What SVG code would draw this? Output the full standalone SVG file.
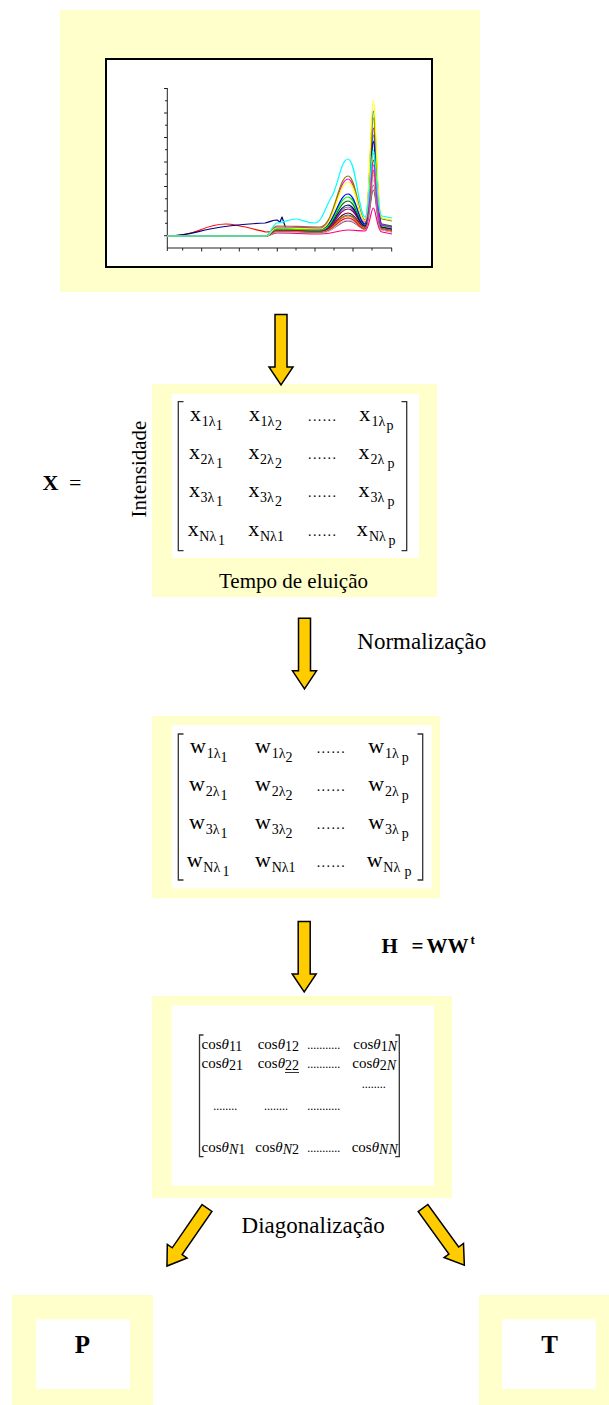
<svg xmlns="http://www.w3.org/2000/svg" width="609" height="1405" viewBox="0 0 609 1405">
  <style>
    .pad { fill: #FFFFCC; }
    .card { fill: #FFFFFF; }
    .t { font-family: "Liberation Serif", "Times New Roman", serif; fill: #000; }
    .m { font-size: 22px; }
    .s { font-size: 14px; }
    .c { font-size: 15px; }
    .it { font-style: italic; }
    .dots { font-size: 12px; }
    .dm { font-size: 14px; letter-spacing: 1.4px; }
    .lbl { font-size: 23px; }
    .b { font-weight: bold; }
    .br { fill: none; stroke: #333; stroke-width: 1.3; }
    .trace { fill: none; stroke-width: 1.2; stroke-linejoin: round; }
    .arrow { fill: #FFCC00; stroke: #000; stroke-width: 1.5; stroke-linejoin: miter; }
  </style>
  <defs>
    <!-- block arrow pointing down, origin at centre of the tail -->
    <path id="blockArrow" d="M-6,0 H6 V52.5 H12 L0,70.5 L-12,52.5 H-6 Z"/>
  </defs>

  <rect width="609" height="1405" fill="#FFFFFF"/>

  <!-- chromatogram panel -->
  <g id="chromatogram">
    <rect class="pad" x="60" y="10" width="420" height="282"/>
    <rect x="106" y="59" width="326" height="208" fill="#FFFFFF" stroke="#000" stroke-width="2"/>
    <g stroke="#222" stroke-width="1" fill="none">
      <path d="M167.3,88 V248 H392"/>
      <path d="M164,88.5h3.3M165,100.8h2.3M164,113h3.3M165,125.2h2.3M164,137.5h3.3M165,149.7h2.3M164,162h3.3M165,174.2h2.3M164,186.5h3.3M165,198.8h2.3M164,211h3.3M165,223.3h2.3M164,235.7h3.3"/>
      <path d="M167.3,248v3M182.7,248v2.5M201.7,248v3.5M220.7,248v2.5M239.3,248v3.5M258.3,248v2.5M277.3,248v3.5M296,248v2.5M315,248v3.5M334,248v2.5M353,248v3.5M372,248v2.5M391.7,248v3.5"/>
    </g>
    <g id="traces">
      <path class="trace" stroke="#FF0080" d="M167,236 L266,236 C270,236 272,233 277,233 C290,233 305,234 320,234 C334,234 338,230 348,230 C356,230 359,231 365,231 C369,231 371,208 373.3,208 C376,208 377,232 382,232 L392,234"/>
      <path class="trace" stroke="#993366" d="M167,236 L266,236 C270,236 272,232 277,232 C290,232 305,233 320,233 C334,233 338,221 348,221 C356,221 359,229 365,229 C369,229 371,190 373.3,190 C376,190 377,230 382,230 L392,232"/>
      <path class="trace" stroke="#C0C0C0" d="M167,236 L266,236 C270,236 272,232 277,232 C290,232 305,233 320,233 C334,233 338,220 348,220 C356,220 359,229 365,229 C369,229 371,180 373.3,180 C376,180 377,230 382,230 L392,232"/>
      <path class="trace" stroke="#9999FF" d="M167,236 L266,236 C270,236 272,231 277,231 C290,231 305,232 320,232 C334,232 338,218 348,218 C356,218 359,229 365,229 C369,229 371,175 373.3,175 C376,175 377,229 382,229 L392,231"/>
      <path class="trace" stroke="#FF0000" d="M167,236 C180,236 190,234 200,230 C212,225 220,224 226,224 C235,224 250,228 266,232 C270,232 272,231 277,231 C290,231 305,232 320,232 C334,232 338,218 348,218 C356,218 359,229 365,229 C369,229 371,170 373.3,170 C376,170 377,229 382,229 L392,231"/>
      <path class="trace" stroke="#008080" d="M167,236 L266,236 C270,236 272,231 277,231 C290,231 305,232 320,232 C334,232 338,215 348,215 C356,215 359,228 365,228 C369,228 371,135 373.3,135 C376,135 377,228 382,228 L392,230"/>
      <path class="trace" stroke="#FF6600" d="M167,236 L266,236 C270,236 272,231 277,231 C290,231 305,232 320,232 C334,232 338,216 348,216 C356,216 359,228 365,228 C369,228 371,172 373.3,172 C376,172 377,229 382,229 L392,231"/>
      <path class="trace" stroke="#800000" d="M167,236 L266,236 C270,236 272,230 277,230 C290,230 305,231 320,231 C334,231 338,213 348,213 C356,213 359,227 365,227 C369,227 371,160 373.3,160 C376,160 377,228 382,228 L392,230"/>
      <path class="trace" stroke="#808080" d="M167,236 L266,236 C270,236 272,230 277,230 C290,230 305,231 320,231 C334,231 338,207 348,207 C356,207 359,227 365,227 C369,227 371,185 373.3,185 C376,185 377,228 382,228 L392,230"/>
      <path class="trace" stroke="#800080" d="M167,236 L266,236 C270,236 272,230 277,230 C290,230 305,231 320,231 C334,231 338,209 348,209 C356,209 359,226 365,226 C369,226 371,128 373.3,128 C376,128 377,227 382,227 L392,229"/>
      <path class="trace" stroke="#000080" d="M167,236 C185,236 195,232 210,229 C225,226 245,224 265,223 C270,222 273,220 277,220 L280,222 L282,217 L286,229 C295,229 308,230 320,230 C334,230 338,205 348,205 C356,205 359,226 365,226 C369,226 371,142 373.3,142 C376,142 377,227 382,227 L392,229"/>
      <path class="trace" stroke="#008000" d="M167,236 L266,236 C270,236 272,229 277,229 C290,229 305,230 320,230 C334,230 338,201 348,201 C356,201 359,225 365,225 C369,225 371,111 373.3,111 C376,111 377,224 382,224 L392,226"/>
      <path class="trace" stroke="#00FF00" d="M167,236 L266,236 C270,236 272,229 277,229 C290,229 305,230 320,230 C334,230 338,197 348,197 C356,197 359,224 365,224 C369,224 371,153 373.3,153 C376,153 377,226 382,226 L392,228"/>
      <path class="trace" stroke="#0000FF" d="M167,236 L266,236 C270,236 272,228 277,228 C290,228 305,229 320,229 C334,229 338,194 348,194 C356,194 359,224 365,224 C369,224 371,141 373.3,141 C376,141 377,225 382,225 L392,227"/>
      <path class="trace" stroke="#FF00FF" d="M167,236 L266,236 C270,236 272,227 277,227 C290,227 305,228 320,228 C334,228 338,179 348,179 C356,179 359,222 365,222 C369,222 371,165 373.3,165 C376,165 377,225 382,225 L392,227"/>
      <path class="trace" stroke="#808000" d="M167,236 L266,236 C270,236 272,226 277,226 C290,226 305,227 320,227 C334,227 338,176 348,176 C356,176 359,220 365,220 C369,220 371,118 373.3,118 C376,118 377,219 382,219 L392,221"/>
      <path class="trace" stroke="#FFFF00" d="M167,236 L266,236 C270,236 272,228 277,228 C290,228 305,229 320,229 C334,229 338,182 348,182 C356,182 359,221 365,221 C369,221 371,100 373.3,100 C376,100 377,218 382,218 L392,220"/>
      <path class="trace" stroke="#00FFFF" d="M167,236 L266,236 C270,236 272,224 277,223 C285,222 290,219 296,219 C302,219 305,223 315,223 C322,223 326,205 332,196 C338,186 341,159 348,159 C356,159 359,217 365,217 C369,217 371,150 373.3,150 C376,150 377,216 382,216 L392,218"/>
    </g>
  </g>

  <!-- data matrix X -->
  <g id="matrix-x">
    <text class="t b" x="42.5" y="490" font-size="22">X<tspan font-weight="normal" x="69">=</tspan></text>
    <text class="t" transform="translate(146,469) rotate(-90)" text-anchor="middle" font-size="21">Intensidade</text>
    <rect class="pad" x="152" y="384" width="285" height="213"/>
    <rect class="card" x="172" y="394" width="247" height="164"/>
    <path class="br" d="M183.5,401.7 H178.3 V550.7 H183.5 M401.5,401.7 H406.7 V550.7 H401.5"/>
    <g class="t m">
      <text x="190" y="421">x<tspan class="s" x="201.7" y="425.5">1λ</tspan><tspan class="s" x="215.7" y="429.5">1</tspan></text>
      <text x="249" y="421">x<tspan class="s" x="260.5" y="425.5">1λ</tspan><tspan class="s" x="275" y="429.5">2</tspan></text>
      <text class="dm" x="308" y="421">......</text>
      <text x="359.3" y="421">x<tspan class="s" x="371.5" y="425.5">1λ</tspan><tspan class="s" x="386.5" y="429.5">p</tspan></text>

      <text x="189" y="459">x<tspan class="s" x="200.5" y="463.5">2λ</tspan><tspan class="s" x="216" y="467.5">1</tspan></text>
      <text x="248.5" y="459">x<tspan class="s" x="260" y="463.5">2λ</tspan><tspan class="s" x="275" y="467.5">2</tspan></text>
      <text class="dm" x="308" y="459">......</text>
      <text x="358.5" y="459">x<tspan class="s" x="370.5" y="463.5">2λ</tspan><tspan class="s" x="387.5" y="467.5">p</tspan></text>

      <text x="189" y="497">x<tspan class="s" x="200.5" y="501.5">3λ</tspan><tspan class="s" x="216" y="505.5">1</tspan></text>
      <text x="248.5" y="497">x<tspan class="s" x="260" y="501.5">3λ</tspan><tspan class="s" x="275" y="505.5">2</tspan></text>
      <text class="dm" x="308" y="497">......</text>
      <text x="358.5" y="497">x<tspan class="s" x="370.5" y="501.5">3λ</tspan><tspan class="s" x="387.5" y="505.5">p</tspan></text>

      <text x="187.7" y="536">x<tspan class="s" x="199.3" y="540.5">Nλ</tspan><tspan class="s" x="218" y="544.5">1</tspan></text>
      <text x="248.3" y="536">x<tspan class="s" x="260" y="540.5">Nλ1</tspan></text>
      <text class="dm" x="308" y="536">......</text>
      <text x="356.7" y="536">x<tspan class="s" x="369" y="540.5">Nλ</tspan><tspan class="s" x="388.5" y="544.5">p</tspan></text>
    </g>
    <text class="t" x="219" y="588" font-size="21">Tempo de eluição</text>
  </g>

  <!-- normalised matrix W -->
  <g id="matrix-w">
    <rect class="pad" x="152" y="716" width="288" height="182.3"/>
    <rect class="card" x="171.7" y="725" width="260" height="163.3"/>
    <path class="br" d="M183.5,734 H178.3 V880 H183.5 M417.5,734 H422.7 V880 H417.5"/>
    <g class="t m">
      <text x="190" y="753">w<tspan class="s" x="206.7" y="757.5">1λ</tspan><tspan class="s" x="220.5" y="761.5">1</tspan></text>
      <text x="255" y="753">w<tspan class="s" x="271.7" y="757.5">1λ</tspan><tspan class="s" x="285.5" y="761.5">2</tspan></text>
      <text class="dm" x="316.7" y="753">......</text>
      <text x="368.3" y="753">w<tspan class="s" x="385" y="757.5">1λ</tspan><tspan class="s" x="401.7" y="761.5">p</tspan></text>

      <text x="189" y="791">w<tspan class="s" x="205.7" y="795.5">2λ</tspan><tspan class="s" x="220.5" y="799.5">1</tspan></text>
      <text x="255" y="791">w<tspan class="s" x="271.7" y="795.5">2λ</tspan><tspan class="s" x="285.5" y="799.5">2</tspan></text>
      <text class="dm" x="316.7" y="791">......</text>
      <text x="368.3" y="791">w<tspan class="s" x="385" y="795.5">2λ</tspan><tspan class="s" x="401.7" y="799.5">p</tspan></text>

      <text x="189" y="829">w<tspan class="s" x="205.7" y="833.5">3λ</tspan><tspan class="s" x="220.5" y="837.5">1</tspan></text>
      <text x="255" y="829">w<tspan class="s" x="271.7" y="833.5">3λ</tspan><tspan class="s" x="285.5" y="837.5">2</tspan></text>
      <text class="dm" x="316.7" y="829">......</text>
      <text x="368.3" y="829">w<tspan class="s" x="385" y="833.5">3λ</tspan><tspan class="s" x="401.7" y="837.5">p</tspan></text>

      <text x="186.7" y="867">w<tspan class="s" x="203.3" y="871.5">Nλ</tspan><tspan class="s" x="222.5" y="875.5">1</tspan></text>
      <text x="255" y="867">w<tspan class="s" x="271.7" y="871.5">Nλ1</tspan></text>
      <text class="dm" x="316.7" y="867">......</text>
      <text x="366.7" y="867">w<tspan class="s" x="383.3" y="871.5">Nλ</tspan><tspan class="s" x="404.5" y="875.5">p</tspan></text>
    </g>
  </g>

  <!-- cosine matrix H -->
  <g id="matrix-h">
    <rect class="pad" x="152" y="996" width="300" height="202"/>
    <rect class="card" x="171.7" y="1005.5" width="262.3" height="180.2"/>
    <path class="br" d="M203.5,1035 H199.5 V1156.7 H203.5 M395.3,1035 H399.3 V1156.7 H395.3"/>
    <g class="t c">
      <text x="201.5" y="1048.5">cos<tspan class="it">θ</tspan><tspan class="s" dy="2.5">11</tspan></text>
      <text x="257.7" y="1048.5">cos<tspan class="it">θ</tspan><tspan class="s" dy="2.5">12</tspan></text>
      <text class="dots" x="307.3" y="1048.5">...........</text>
      <text x="353.3" y="1048.5">cos<tspan class="it">θ</tspan><tspan class="s" dy="2.5">1<tspan class="it">N</tspan></tspan></text>

      <text x="201.5" y="1067.7">cos<tspan class="it">θ</tspan><tspan class="s" dy="2.5">21</tspan></text>
      <text x="257.7" y="1067.7">cos<tspan class="it">θ</tspan><tspan class="s" dy="2.5">22</tspan></text>
      <text class="dots" x="307.3" y="1067.7">...........</text>
      <text x="352.3" y="1067.7">cos<tspan class="it">θ</tspan><tspan class="s" dy="2.5">2<tspan class="it">N</tspan></tspan></text>

      <text class="dots" x="361.7" y="1087.7">........</text>

      <text class="dots" x="213.3" y="1110">........</text>
      <text class="dots" x="264" y="1110">........</text>
      <text class="dots" x="307.3" y="1110">...........</text>

      <text x="201.5" y="1151.7">cos<tspan class="it">θ</tspan><tspan class="s it" dy="2.5">N</tspan><tspan class="s">1</tspan></text>
      <text x="255.3" y="1151.7">cos<tspan class="it">θ</tspan><tspan class="s it" dy="2.5">N</tspan><tspan class="s">2</tspan></text>
      <text class="dots" x="307.3" y="1151.7">...........</text>
      <text x="351.7" y="1151.7">cos<tspan class="it">θ</tspan><tspan class="s it" dy="2.5">NN</tspan></text>
    </g>
    <path d="M285,1072.5 H299" stroke="#000" stroke-width="0.8"/>
  </g>

  <!-- factor blocks -->
  <g id="node-p">
    <rect class="pad" x="12" y="1295" width="141" height="110"/>
    <rect class="card" x="36" y="1319.3" width="94" height="69.7"/>
    <text class="t b" x="82.5" y="1353" font-size="25" text-anchor="middle">P</text>
  </g>
  <g id="node-t">
    <rect class="pad" x="479" y="1295" width="130" height="110"/>
    <rect class="card" x="502" y="1319.3" width="94" height="69.7"/>
    <text class="t b" x="549.5" y="1353" font-size="25" text-anchor="middle">T</text>
  </g>

  <!-- connectors -->
  <g id="connectors">
    <use href="#blockArrow" class="arrow" transform="translate(281,314.5)"/>
    <use href="#blockArrow" class="arrow" transform="translate(304.5,618.3)"/>
    <use href="#blockArrow" class="arrow" transform="translate(304.2,921.5)"/>
    <use href="#blockArrow" class="arrow" transform="translate(207,1208) rotate(34.6)"/>
    <use href="#blockArrow" class="arrow" transform="translate(423,1208) rotate(-35.9)"/>
  </g>

  <!-- step labels -->
  <g id="labels">
    <text class="t lbl" x="357.3" y="649.3">Normalização</text>
    <text class="t b" x="381.5" y="953.3" font-size="21">H<tspan x="411.5">=</tspan><tspan x="426.5">WW</tspan><tspan x="470.5" y="944" font-size="13">t</tspan></text>
    <text class="t lbl" x="241.6" y="1233.3">Diagonalização</text>
  </g>
</svg>
